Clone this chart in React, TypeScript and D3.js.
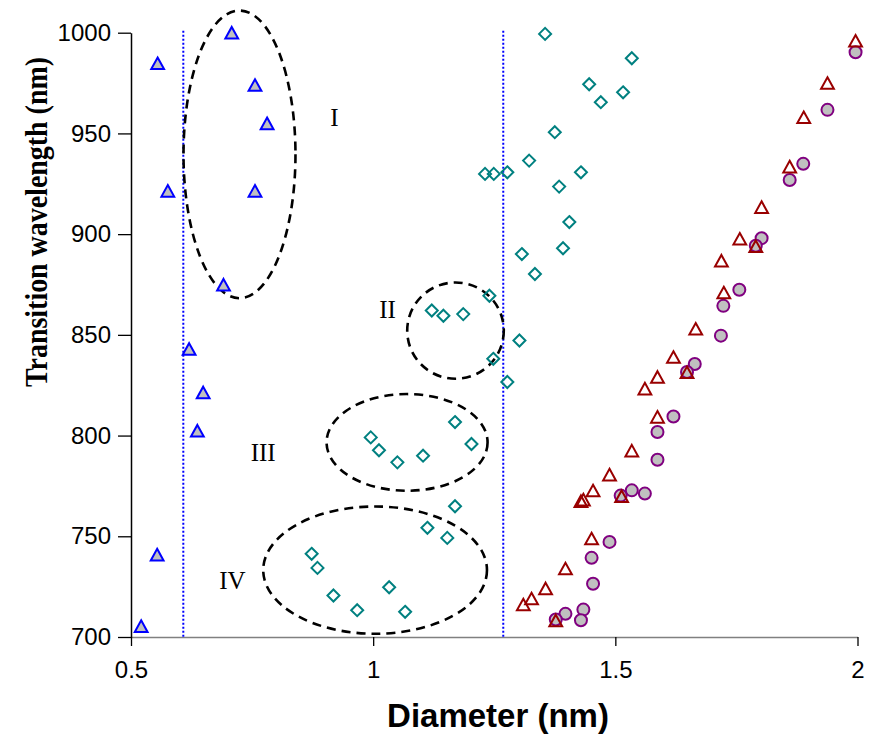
import React, { useEffect, useRef } from 'react';
import * as d3 from 'd3';

// diameter (nm), wavelength (nm)
const bluePoints: [number, number][] = [
  [0.555, 984.8], [0.708, 1000], [0.756, 974], [0.781, 955], [0.576, 921.5],
  [0.756, 921.5], [0.691, 874.9], [0.62, 843], [0.649, 821.4], [0.637, 802.4],
  [0.554, 740.9], [0.521, 705.4],
];

const tealPoints: [number, number][] = [
  [1.121, 862.1], [1.145, 859.5], [1.186, 860.3], [1.302, 847.2], [1.248, 838.1],
  [1.277, 826.6], [1.24, 869.4],
  [1.169, 806.7], [0.995, 799.1], [1.012, 792.7], [1.05, 786.7], [1.103, 790.0], [1.203, 795.8],
  [1.169, 764.9], [1.112, 754.2], [1.153, 749.2],
  [0.873, 741.3], [0.885, 734.3], [0.918, 720.6], [0.967, 713.3], [1.033, 724.7], [1.066, 712.5],
  [1.355, 999.4], [1.534, 987.3], [1.446, 974.4], [1.47, 965.5], [1.516, 970.4], [1.375, 950.6],
  [1.322, 936.5], [1.231, 929.9], [1.249, 929.9], [1.277, 930.7], [1.429, 930.7], [1.384, 923.6],
  [1.405, 906.0], [1.392, 893.0], [1.307, 890.1], [1.334, 880.2],
];

const redPoints: [number, number][] = [
  [1.996, 996], [1.938, 975], [1.889, 958], [1.86, 933.5], [1.802, 913.4], [1.757, 897.7],
  [1.79, 894], [1.719, 886.8], [1.724, 871], [1.666, 853], [1.62, 839], [1.648, 831.4],
  [1.587, 829.1], [1.561, 823.3], [1.587, 809.3], [1.534, 792.5], [1.488, 780.6], [1.454, 772.7],
  [1.434, 768.2], [1.429, 767.4], [1.513, 769.9], [1.451, 748.9], [1.397, 734], [1.356, 724.1],
  [1.327, 719.1], [1.31, 716.1], [1.377, 708.2],
];

const purplePoints: [number, number][] = [
  [1.996, 990.3], [1.938, 961.7], [1.888, 934.9], [1.86, 926.9], [1.802, 898], [1.79, 894.2],
  [1.756, 872.4], [1.723, 864.4], [1.718, 849.6], [1.664, 835.5], [1.648, 831.6], [1.62, 809.5],
  [1.587, 801.8], [1.587, 788], [1.534, 772.8], [1.561, 771.2], [1.511, 770.2], [1.488, 747.2],
  [1.451, 739.3], [1.454, 726.4], [1.434, 713.6], [1.429, 708.3], [1.397, 711.5], [1.377, 708.7],
];

const cutoffs = [0.608, 1.2686];

// group ellipses: centre diameter, centre wavelength, radius in diameter, radius in wavelength
const groups = [
  { name: 'I', cx: 0.724, cy: 939.6, rx: 0.1156, ry: 71.4, lx: 0.92, ly: 953.9 },
  { name: 'II', cx: 1.17, cy: 852.1, rx: 0.0997, ry: 23.9, lx: 1.0295, ly: 858.3 },
  { name: 'III', cx: 1.07, cy: 796.6, rx: 0.1662, ry: 24.0, lx: 0.773, ly: 787.2 },
  { name: 'IV', cx: 1.004, cy: 733.2, rx: 0.231, ry: 31.6, lx: 0.7095, ly: 723.9 },
];

const xTicks = [0.5, 1, 1.5, 2];
const yTicks = [700, 750, 800, 850, 900, 950, 1000];

const App = () => {
  const ref = useRef<SVGSVGElement>(null);

  useEffect(() => {
    const svg = d3.select(ref.current);
    svg.selectAll('*').remove();

    const x = d3.scaleLinear().domain([0.5, 2]).range([131, 857.5]);
    const y = d3.scaleLinear().domain([700, 1000]).range([637, 32.7]);

    // axes
    const xAxis = d3.axisBottom(x).tickValues(xTicks).tickSize(9).tickSizeOuter(0)
      .tickFormat(d => String(d));
    const gx = svg.append('g').attr('transform', `translate(0, ${y(700)})`).call(xAxis);
    gx.select('.domain').attr('stroke', '#808080').attr('stroke-width', 1.5);
    gx.selectAll('.tick line').attr('stroke', '#000').attr('stroke-width', 1.3);
    gx.selectAll('.tick text')
      .attr('font-family', 'Liberation Sans, Arial, sans-serif')
      .attr('font-size', 24).attr('fill', '#000').attr('dy', '1.2em');

    const yAxis = d3.axisLeft(y).tickValues(yTicks).tickSize(13).tickSizeOuter(0)
      .tickFormat(d => String(d));
    const gy = svg.append('g').attr('transform', `translate(${x(0.5)}, 0)`).call(yAxis);
    gy.select('.domain').attr('stroke', '#000').attr('stroke-width', 1.5);
    gy.selectAll('.tick line').attr('stroke', '#000').attr('stroke-width', 1.3);
    gy.selectAll('.tick text')
      .attr('font-family', 'Liberation Sans, Arial, sans-serif')
      .attr('font-size', 24).attr('fill', '#000').attr('x', -20);

    // dotted cut-off lines
    svg.selectAll('.cutoff')
      .data(cutoffs)
      .enter()
      .append('line')
      .attr('x1', d => x(d)).attr('x2', d => x(d))
      .attr('y1', y(1001)).attr('y2', y(700))
      .attr('stroke', '#0000ff').attr('stroke-width', 2)
      .attr('stroke-dasharray', '2,2');

    // ellipses
    svg.selectAll('.group')
      .data(groups)
      .enter()
      .append('ellipse')
      .attr('cx', d => x(d.cx)).attr('cy', d => y(d.cy))
      .attr('rx', d => x(0.5 + d.rx) - x(0.5))
      .attr('ry', d => y(700) - y(700 + d.ry))
      .attr('fill', 'none').attr('stroke', '#000').attr('stroke-width', 2.6)
      .attr('stroke-dasharray', '9,6');

    svg.selectAll('.glabel')
      .data(groups)
      .enter()
      .append('text')
      .attr('x', d => x(d.lx)).attr('y', d => y(d.ly))
      .attr('text-anchor', 'middle')
      .attr('font-family', 'Liberation Serif, Times New Roman, serif')
      .attr('font-size', 25)
      .text(d => d.name);

    const tri = 'M0,-5.8L6.4,5.8L-6.4,5.8Z';
    const dia = 'M0,-6L6,0L0,6L-6,0Z';

    svg.selectAll('.blue')
      .data(bluePoints)
      .enter()
      .append('path')
      .attr('d', tri)
      .attr('transform', d => `translate(${x(d[0])},${y(d[1])})`)
      .attr('fill', '#c0c0c0').attr('stroke', '#0000ff').attr('stroke-width', 2);

    svg.selectAll('.teal')
      .data(tealPoints)
      .enter()
      .append('path')
      .attr('d', dia)
      .attr('transform', d => `translate(${x(d[0])},${y(d[1])})`)
      .attr('fill', 'none').attr('stroke', '#008080').attr('stroke-width', 2);

    svg.selectAll('.purple')
      .data(purplePoints)
      .enter()
      .append('circle')
      .attr('cx', d => x(d[0])).attr('cy', d => y(d[1])).attr('r', 6)
      .attr('fill', '#c0c0c0').attr('stroke', '#800080').attr('stroke-width', 2);

    svg.selectAll('.red')
      .data(redPoints)
      .enter()
      .append('path')
      .attr('d', tri)
      .attr('transform', d => `translate(${x(d[0])},${y(d[1])})`)
      .attr('fill', 'none').attr('stroke', '#990000').attr('stroke-width', 2);

    // axis titles
    svg.append('text')
      .attr('x', 498).attr('y', 727)
      .attr('text-anchor', 'middle')
      .attr('font-family', 'Liberation Sans, Arial, sans-serif')
      .attr('font-weight', 'bold').attr('font-size', 33)
      .text('Diameter (nm)');

    svg.append('text')
      .attr('transform', 'translate(47, 222) rotate(-90)')
      .attr('text-anchor', 'middle')
      .attr('font-family', 'Liberation Serif, Times New Roman, serif')
      .attr('font-weight', 'bold').attr('font-size', 31)
      .attr('textLength', 330).attr('lengthAdjust', 'spacingAndGlyphs')
      .text('Transition wavelength (nm)');
  }, []);

  return (
    <svg ref={ref} width={875} height={738}
      style={{ position: 'absolute', left: 0, top: 0, background: '#fff' }} />
  );
};

export default App;
